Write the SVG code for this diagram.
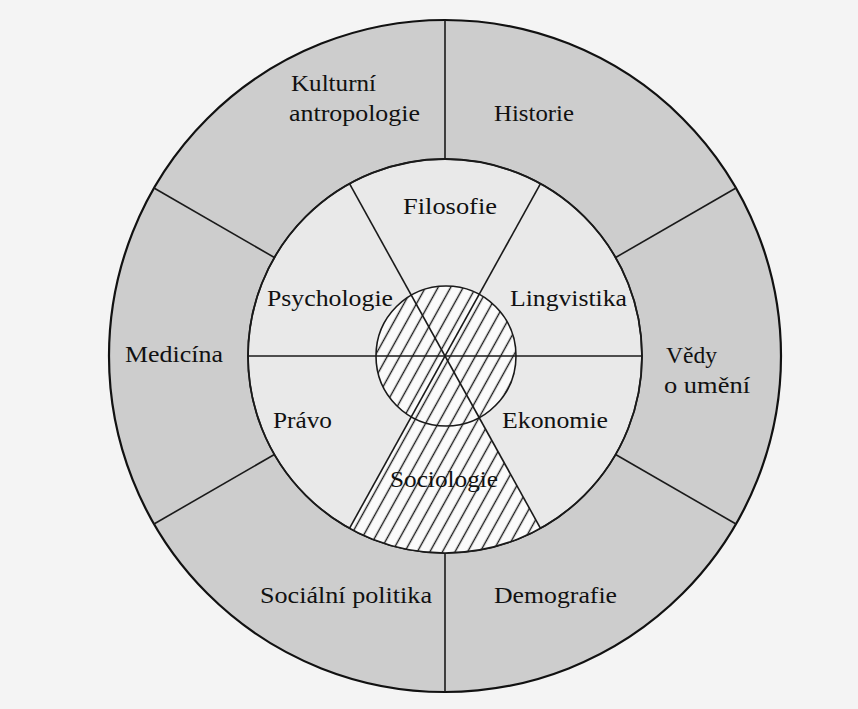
<svg xmlns="http://www.w3.org/2000/svg" width="858" height="709" viewBox="0 0 858 709">
<style>
.lbl{font-family:"Liberation Serif","Times New Roman",serif;font-size:23px;fill:#111;}
.ln{stroke:#1a1a1a;stroke-width:1.6;fill:none;}
.edge{stroke:#111;stroke-width:2.2;}
</style>
<defs>
<pattern id="hatch" patternUnits="userSpaceOnUse" width="11" height="11" patternTransform="rotate(29)">
<rect width="11" height="11" fill="#fbfbfb"/>
<line x1="5.5" y1="-1" x2="5.5" y2="12" stroke="#1a1a1a" stroke-width="1.4"/>
</pattern>
</defs>
<rect width="858" height="709" fill="#f4f4f4"/>
<g id="outer-ring">
<circle cx="445" cy="356" r="336" fill="#cdcdcd" class="edge"/>
</g>
<g id="inner-disc">
<circle cx="445" cy="356" r="197" fill="#e9e9e9" stroke="#1a1a1a" stroke-width="1.8"/>
</g>
<g id="sociologie-sector">
<path d="M445 356 L349.5 528.3 A197 197 0 0 0 540.5 528.3 Z" fill="url(#hatch)"/>
</g>
<g id="core">
<circle cx="446" cy="356" r="70" fill="url(#hatch)"/>
</g>
<g id="connectors">
<line class="ln" x1="445" y1="159" x2="445" y2="20"/>
<line class="ln" x1="445" y1="553" x2="445" y2="692"/>
<line class="ln" x1="615.6" y1="257.5" x2="736" y2="188"/>
<line class="ln" x1="274.4" y1="257.5" x2="154" y2="188"/>
<line class="ln" x1="274.4" y1="454.5" x2="154" y2="524"/>
<line class="ln" x1="615.6" y1="454.5" x2="736" y2="524"/>
<line class="ln" x1="349.5" y1="183.7" x2="540.5" y2="528.3"/>
<line class="ln" x1="540.5" y1="183.7" x2="349.5" y2="528.3"/>
<line class="ln" x1="248" y1="356" x2="642" y2="356"/>
<circle class="ln" cx="446" cy="356" r="70"/>
<circle class="ln" cx="445" cy="356" r="197"/>
</g>
<g id="kulturni-antropologie">
<text class="lbl" x="291" y="91" textLength="85" lengthAdjust="spacingAndGlyphs">Kulturní</text>
<text class="lbl" x="289" y="121" textLength="131" lengthAdjust="spacingAndGlyphs">antropologie</text>
</g>
<g id="historie"><text class="lbl" x="494" y="121" textLength="80" lengthAdjust="spacingAndGlyphs">Historie</text></g>
<g id="medicina"><text class="lbl" x="125" y="362" textLength="98" lengthAdjust="spacingAndGlyphs">Medicína</text></g>
<g id="vedy-o-umeni">
<text class="lbl" x="666" y="363" textLength="51" lengthAdjust="spacingAndGlyphs">Vědy</text>
<text class="lbl" x="664" y="393" textLength="86" lengthAdjust="spacingAndGlyphs">o umění</text>
</g>
<g id="socialni-politika"><text class="lbl" x="260" y="603" textLength="172" lengthAdjust="spacingAndGlyphs">Sociální politika</text></g>
<g id="demografie"><text class="lbl" x="494" y="603" textLength="123" lengthAdjust="spacingAndGlyphs">Demografie</text></g>
<g id="filosofie"><text class="lbl" x="403" y="214" textLength="94" lengthAdjust="spacingAndGlyphs">Filosofie</text></g>
<g id="psychologie"><text class="lbl" x="267" y="306" textLength="126" lengthAdjust="spacingAndGlyphs">Psychologie</text></g>
<g id="lingvistika"><text class="lbl" x="510" y="306" textLength="117" lengthAdjust="spacingAndGlyphs">Lingvistika</text></g>
<g id="pravo"><text class="lbl" x="273" y="428" textLength="59" lengthAdjust="spacingAndGlyphs">Právo</text></g>
<g id="ekonomie"><text class="lbl" x="502" y="428" textLength="106" lengthAdjust="spacingAndGlyphs">Ekonomie</text></g>
<g id="sociologie"><text class="lbl" x="390" y="487" textLength="108" lengthAdjust="spacingAndGlyphs">Sociologie</text></g>
</svg>
